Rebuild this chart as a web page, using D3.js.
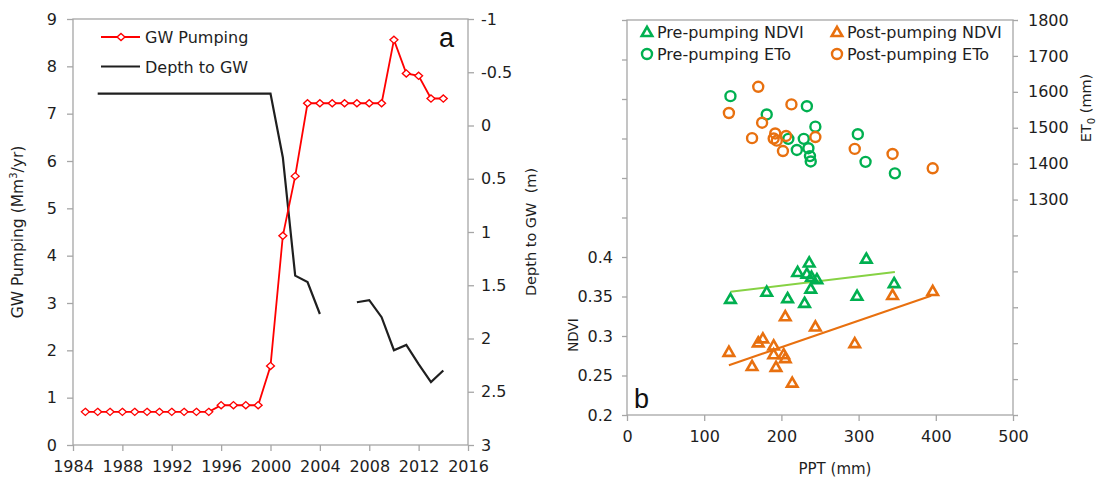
<!DOCTYPE html>
<html><head><meta charset="utf-8">
<script src="https://cdn.jsdelivr.net/npm/d3@7"></script>
<style>
html,body{margin:0;padding:0;background:#fff;}
svg{display:block;font-family:"DejaVu Sans",sans-serif;}
</style></head>
<body><svg id="c" width="1105" height="481"></svg>
<script>
// ---------- Panel a data ----------
const pumpYears = [1985,1986,1987,1988,1989,1990,1991,1992,1993,1994,1995,1996,1997,1998,1999,2000,2001,2002,2003,2004,2005,2006,2007,2008,2009,2010,2011,2012,2013,2014];
const pumpValues = [0.7,0.7,0.7,0.7,0.7,0.7,0.7,0.7,0.7,0.7,0.7,0.84,0.84,0.84,0.84,1.67,4.42,5.68,7.22,7.22,7.22,7.22,7.22,7.22,7.22,8.56,7.85,7.8,7.32,7.32];
const depthYears = [1986,1987,1988,1989,1990,1991,1992,1993,1994,1995,1996,1997,1998,1999,2000,2001,2002,2003,2004,2005,2006,2007,2008,2009,2010,2011,2012,2013,2014];
const depthValues = [-0.3,-0.3,-0.3,-0.3,-0.3,-0.3,-0.3,-0.3,-0.3,-0.3,-0.3,-0.3,-0.3,-0.3,-0.3,0.3,1.41,1.47,1.77,null,null,1.66,1.64,1.8,2.11,2.06,2.24,2.41,2.3];
const yearTicks = [1984,1988,1992,1996,2000,2004,2008,2012,2016];
const pumpTicks = [0,1,2,3,4,5,6,7,8,9];
const depthTicks = [-1,-0.5,0,0.5,1,1.5,2,2.5,3];

// ---------- Panel b data ----------
const preNdviPPT = [134,181,208,221,236,233,239,246,238,230,298,310,346];
const preNdvi    = [0.347,0.356,0.348,0.381,0.393,0.379,0.375,0.372,0.360,0.342,0.351,0.398,0.367];
const postNdviPPT = [132,162,170,176,190,190,193,203,205,205,214,244,295,344,396];
const postNdvi    = [0.280,0.262,0.292,0.297,0.288,0.277,0.261,0.277,0.272,0.325,0.241,0.312,0.291,0.352,0.357];
const preEtoPPT = [134,181,233,244,209,229,220,235,237,238,299,309,347];
const preEto    = [1588,1537,1560,1503,1469,1469,1438,1443,1421,1406,1482,1405,1373];
const postEtoPPT = [170,132,213,175,162,192,190,194,206,202,244,295,344,396];
const postEto    = [1614,1541,1565,1514,1471,1484,1470,1464,1477,1435,1474,1441,1427,1387];
const preTrendPPT = [134,347];
const preTrendNdvi = [0.356,0.381];
const postTrendPPT = [132,394];
const postTrendNdvi = [0.263,0.351];
const pptTicks = [0,100,200,300,400,500];
const ndviTicks = [0.2,0.25,0.3,0.35,0.4,0.45,0.5,0.55,0.6,0.65,0.7];
const ndviLabels = [0.2,0.25,0.3,0.35,0.4];
const etoTicks = [700,800,900,1000,1100,1200,1300,1400,1500,1600,1700,1800];
const etoLabels = [1300,1400,1500,1600,1700,1800];

const GRAY = "#a6a6a6", TXT = "#1e1e1e", FS = 16, FONT = "'DejaVu Sans',sans-serif";
const GREEN = "#00b050", ORANGE = "#e8700f", LGREEN = "#86d244", RED = "#ff0000";
const svg = d3.select("#c");

function frame(g, x0, x1, y0, y1){
  g.append("rect").attr("x",x0).attr("y",y0).attr("width",x1-x0).attr("height",y1-y0)
   .attr("fill","none").attr("stroke",GRAY).attr("stroke-width",1.3);
}
function styleAxis(sel, showLabels){
  sel.select(".domain").remove();
  sel.selectAll(".tick line").attr("stroke",GRAY).attr("stroke-width",1.3);
  sel.selectAll(".tick text").attr("fill",TXT).attr("font-size",FS).attr("font-family",FONT);
  if(showLabels) sel.selectAll(".tick text").filter(d=>!showLabels.includes(d)).remove();
}

// ================= Panel a =================
const ax = d3.scaleLinear().domain([1984,2016]).range([73,468]);
const ayL = d3.scaleLinear().domain([0,9]).range([445,19]);
const ayR = d3.scaleLinear().domain([-1,3]).range([19,445]);
const ga = svg.append("g");
frame(ga, 73, 468, 19, 445);
ga.append("g").attr("transform","translate(0,445)")
  .call(d3.axisBottom(ax).tickValues(yearTicks).tickFormat(d3.format("d")).tickSize(6).tickPadding(10)).call(s=>styleAxis(s));
ga.append("g").attr("transform","translate(73,0)")
  .call(d3.axisLeft(ayL).tickValues(pumpTicks).tickSize(6).tickPadding(10)).call(s=>styleAxis(s));
ga.append("g").attr("transform","translate(468,0)")
  .call(d3.axisRight(ayR).tickValues(depthTicks).tickFormat(d=>String(d)).tickSize(6).tickPadding(7)).call(s=>styleAxis(s));

const pumpData = pumpYears.map((y,i)=>({x:y,v:pumpValues[i]}));
const depthData = depthYears.map((y,i)=>({x:y,v:depthValues[i]}));
ga.append("path").datum(depthData)
  .attr("d", d3.line().defined(d=>d.v!==null).x(d=>ax(d.x)).y(d=>ayR(d.v)))
  .attr("fill","none").attr("stroke","#1f1f1f").attr("stroke-width",2.2);
ga.append("path").datum(pumpData)
  .attr("d", d3.line().x(d=>ax(d.x)).y(d=>ayL(d.v)))
  .attr("fill","none").attr("stroke",RED).attr("stroke-width",1.8);
const diamond = d3.symbol().type(d3.symbolDiamond2).size(40);
ga.selectAll("path.dm").data(pumpData).join("path").attr("class","dm")
  .attr("d", diamond).attr("transform",d=>`translate(${ax(d.x)},${ayL(d.v)}) scale(1,0.9)`)
  .attr("fill","#fff").attr("stroke",RED).attr("stroke-width",1.4);

// legend a
ga.append("line").attr("x1",101).attr("x2",140).attr("y1",37).attr("y2",37).attr("stroke",RED).attr("stroke-width",1.8);
ga.append("path").attr("d",diamond).attr("transform","translate(121,37) scale(1,0.9)").attr("fill","#fff").attr("stroke",RED).attr("stroke-width",1.4);
ga.append("text").attr("x",145).attr("y",43).attr("font-size",FS).attr("fill",TXT).text("GW Pumping");
ga.append("line").attr("x1",101).attr("x2",140).attr("y1",66.5).attr("y2",66.5).attr("stroke","#1f1f1f").attr("stroke-width",2.2);
ga.append("text").attr("x",145).attr("y",72.5).attr("font-size",FS).attr("fill",TXT).text("Depth to GW");
ga.append("text").attr("x",439).attr("y",47).attr("font-size",27).attr("font-family","'Liberation Sans',Arial,sans-serif").attr("fill","#111").text("a");

// axis titles a
const tl = ga.append("text").attr("transform","translate(23,232) rotate(-90)").attr("text-anchor","middle")
  .attr("font-size",15.5).attr("fill",TXT);
tl.append("tspan").text("GW Pumping (Mm");
tl.append("tspan").attr("font-size",10).attr("dy",-6).text("3");
tl.append("tspan").attr("dy",6).text("/yr)");
ga.append("text").attr("transform","translate(536,232) rotate(-90)").attr("text-anchor","middle")
  .attr("font-size",14.5).attr("fill",TXT).attr("xml:space","preserve").text("Depth to GW  (m)");

// ================= Panel b =================
const bx = d3.scaleLinear().domain([0,500]).range([627,1013]);
const byN = d3.scaleLinear().domain([0.2,0.7]).range([415,20]);
const byE = d3.scaleLinear().domain([700,1800]).range([415,20]);
const gb = svg.append("g");
frame(gb, 627, 1013, 20, 415);
gb.append("g").attr("transform","translate(0,415)")
  .call(d3.axisBottom(bx).tickValues(pptTicks).tickSize(6).tickPadding(10)).call(s=>styleAxis(s));
gb.append("g").attr("transform","translate(627,0)")
  .call(d3.axisLeft(byN).tickValues(ndviTicks).tickFormat(d=>String(+d.toFixed(2))).tickSize(5).tickPadding(9)).call(s=>styleAxis(s, ndviLabels));
gb.append("g").attr("transform","translate(1013,0)")
  .call(d3.axisRight(byE).tickValues(etoTicks).tickFormat(d3.format("d")).tickSize(5).tickPadding(10)).call(s=>styleAxis(s, etoLabels));

// trend lines
gb.append("line").attr("x1",bx(preTrendPPT[0])).attr("x2",bx(preTrendPPT[1]))
  .attr("y1",byN(preTrendNdvi[0])).attr("y2",byN(preTrendNdvi[1])).attr("stroke",LGREEN).attr("stroke-width",2);
gb.append("line").attr("x1",bx(postTrendPPT[0])).attr("x2",bx(postTrendPPT[1]))
  .attr("y1",byN(postTrendNdvi[0])).attr("y2",byN(postTrendNdvi[1])).attr("stroke",ORANGE).attr("stroke-width",2);

const tri = d3.symbol().type(d3.symbolTriangle).size(48);
function tris(xs, ys, col){
  gb.append("g").selectAll("path").data(xs.map((x,i)=>[x,ys[i]])).join("path")
    .attr("d",tri).attr("transform",d=>`translate(${bx(d[0])},${byN(d[1])+1})`)
    .attr("fill","none").attr("stroke",col).attr("stroke-width",2.6).attr("stroke-linejoin","miter");
}
function circs(xs, ys, col){
  gb.append("g").selectAll("circle").data(xs.map((x,i)=>[x,ys[i]])).join("circle")
    .attr("cx",d=>bx(d[0])).attr("cy",d=>byE(d[1])).attr("r",5)
    .attr("fill","none").attr("stroke",col).attr("stroke-width",2.4);
}
tris(preNdviPPT, preNdvi, GREEN);
tris(postNdviPPT, postNdvi, ORANGE);
circs(preEtoPPT, preEto, GREEN);
circs(postEtoPPT, postEto, ORANGE);

// legend b
const leg = [
  {x:647,y:32,s:"tri",c:GREEN,t:"Pre-pumping NDVI"},
  {x:837,y:32,s:"tri",c:ORANGE,t:"Post-pumping NDVI"},
  {x:647,y:54,s:"circ",c:GREEN,t:"Pre-pumping ETo"},
  {x:837,y:54,s:"circ",c:ORANGE,t:"Post-pumping ETo"}
];
leg.forEach(l=>{
  if(l.s==="tri") gb.append("path").attr("d",tri).attr("transform",`translate(${l.x},${l.y+1})`)
      .attr("fill","none").attr("stroke",l.c).attr("stroke-width",2.6);
  else gb.append("circle").attr("cx",l.x).attr("cy",l.y).attr("r",5).attr("fill","none").attr("stroke",l.c).attr("stroke-width",2.4);
  gb.append("text").attr("x",l.x+10).attr("y",l.y+6).attr("font-size",FS).attr("fill",TXT).text(l.t);
});
gb.append("text").attr("x",634).attr("y",408).attr("font-size",27).attr("font-family","'Liberation Sans',Arial,sans-serif").attr("fill","#111").text("b");

// axis titles b
gb.append("text").attr("transform","translate(578,335) rotate(-90)").attr("text-anchor","middle")
  .attr("font-size",13.5).attr("fill",TXT).text("NDVI");
const et = gb.append("text").attr("transform","translate(1091,108) rotate(-90)").attr("text-anchor","middle")
  .attr("font-size",14.5).attr("fill",TXT);
et.append("tspan").text("ET");
et.append("tspan").attr("font-size",10).attr("dy",4).text("0");
et.append("tspan").attr("dy",-4).text(" (mm)");
gb.append("text").attr("x",835).attr("y",474).attr("text-anchor","middle").attr("font-size",15).attr("fill",TXT).text("PPT (mm)");
</script></body></html>
